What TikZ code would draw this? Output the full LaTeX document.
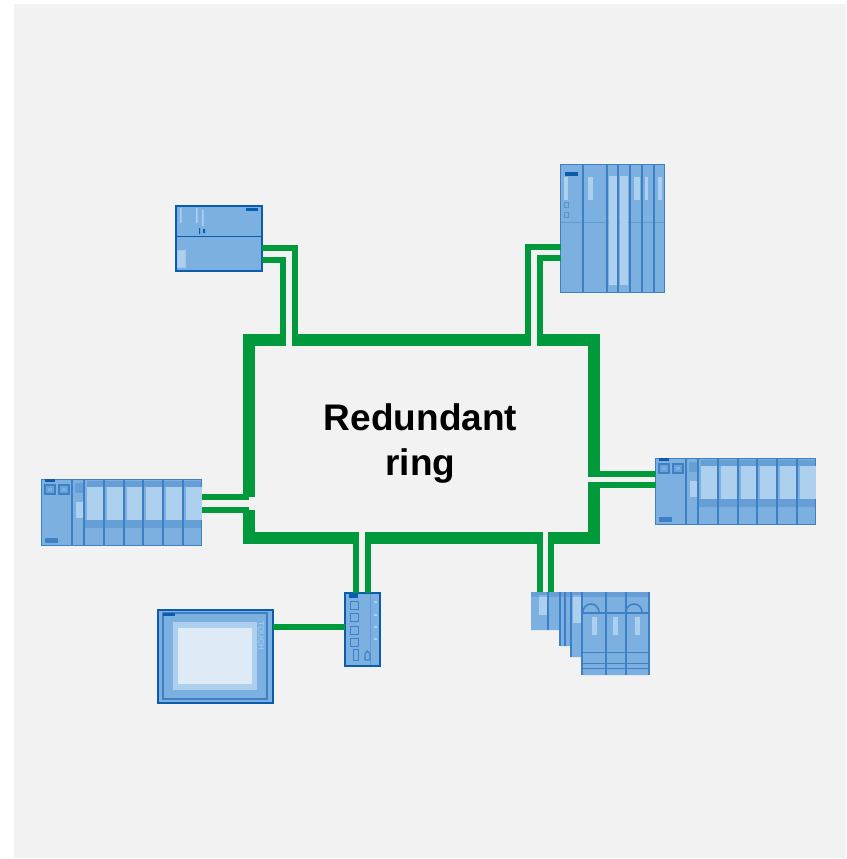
\documentclass[tikz,border=0pt]{standalone}
\usepackage{fontspec}
\setmainfont{Liberation Sans}
\definecolor{ringgreen}{HTML}{009A3D}
\definecolor{panelbg}{HTML}{F2F2F2}
\definecolor{devblue}{HTML}{7BB0E0}
\definecolor{devmid}{HTML}{3F80C4}
\definecolor{devdark}{HTML}{0B5CAD}
\definecolor{devlight}{HTML}{AED0EF}
\definecolor{devpale}{HTML}{DFEAF7}
\tikzset{
	ringline/.style={ringgreen, line width=12pt, line join=miter},
	wire/.style={ringgreen, line width=6pt, line join=miter},
	device/.style={draw=devdark, fill=devblue, line width=2pt, inner sep=0pt, outer sep=0pt},
	rack/.style={draw=devmid, fill=devblue, line width=1.5pt, inner sep=0pt, outer sep=0pt},
	ghost/.style={inner sep=0pt, outer sep=0pt},
	divider/.style={devmid, line width=2pt},
	faint/.style={devmid, line width=1pt}
}
% one row of modules, drawn from its top left corner
\newcommand{\modulerow}[1]{
	\begin{scope}[shift={(#1)}]
		\fill[devmid!35!devblue] (46,2) rectangle (160,8);
		\fill[devmid!35!devblue] (44,41) rectangle (160,49);
		\foreach \x in {46,66,85.5,105,125,145}\fill[devlight] (\x,8) rectangle +(16,33);
		\foreach \x in {31,43,63,83,102,122,142}\draw[divider] (\x,0)--(\x,67);
		\foreach \x in {4,18}{
			\draw[devmid, line width=1.5pt, fill=devmid!30!devblue] (\x,6) rectangle +(10,9);
			\fill[devblue] (\x+3,9) rectangle +(4,3);
		}
		\fill[devmid!35!devblue] (34,4) rectangle (42,14);
		\fill[devlight] (35,23) rectangle (42,39);
		\fill[devmid] (4,59) rectangle (17,64);
		\fill[devdark] (4,0) rectangle (14,3);
	\end{scope}
}
\begin{document}
\begin{tikzpicture}[x=1pt, y=-1pt, font=\bfseries, line cap=butt]
	\useasboundingbox (0,0) rectangle (846,859);
	\fill[panelbg] (14,4) rectangle (846,858);
	\path
	(249,497)coordinate (W1)
	(249,340)coordinate (W2)
	(283,340)coordinate (T1)
	(295,340)coordinate (T2)
	(283,260)coordinate (T3)
	(295,248)coordinate (T4)
	(528,340)coordinate (T5)
	(540,340)coordinate (T6)
	(528,247)coordinate (T7)
	(540,258)coordinate (T8)
	(594,340)coordinate (NE)
	(594,474)coordinate (E1)
	(594,485)coordinate (E2)
	(594,538)coordinate (SE)
	(551,538)coordinate (B1)
	(540,538)coordinate (B2)
	(368,538)coordinate (B3)
	(356,538)coordinate (B4)
	(249,538)coordinate (SW)
	(249,510)coordinate (W3)
	;
	% devices
	\node[device, minimum width=86pt, minimum height=65pt] (cpuA) at (218.5,238) {};
	\node[rack, minimum width=104pt, minimum height=128pt] (cpuB) at (612.5,228.5) {};
	\node[rack, minimum width=160pt, minimum height=66pt] (rowL) at (121.5,512.5) {};
	\node[rack, minimum width=160pt, minimum height=66pt] (rowR) at (735.5,491.5) {};
	\node[device, minimum width=115pt, minimum height=93pt] (hmi) at (215,656) {};
	\node[device, minimum width=35pt, minimum height=73pt] (switch) at (362.5,629.5) {};
	\node[ghost, minimum width=118pt, minimum height=83pt] (stack) at (590,633.5) {};
	\node[align=center, font=\fontsize{37}{45}\selectfont\bfseries] (ringname) at (420.5,444) {Redundant\\ring};
	% ring
	\draw[ringline] (W1)--(W2)--([xshift=3pt]T1);
	\draw[ringline] ([xshift=-3pt]T2)--([xshift=3pt]T5);
	\draw[ringline] ([xshift=-3pt]T6)--(NE)--(E1|-477,477);
	\draw[ringline] (E2|-482,482)--(SE)--([xshift=-3pt]B1);
	\draw[ringline] ([xshift=3pt]B2)--([xshift=-3pt]B3);
	\draw[ringline] ([xshift=3pt]B4)--(SW)--(W3);
	% double lines
	\draw[wire] (T1)--(T3)--(cpuA.east|-T3);
	\draw[wire] (T2)--(T4)--(cpuA.east|-T4);
	\draw[wire] (T5)--(T7)--(cpuB.west|-T7);
	\draw[wire] (T6)--(T8)--(cpuB.west|-T8);
	\draw[wire] (E1)--(rowR.west|-E1);
	\draw[wire] (E2)--(rowR.west|-E2);
	\draw[wire] (B1)--(B1|-stack.north);
	\draw[wire] (B2)--(B2|-stack.north);
	\draw[wire] (B3)--(B3|-switch.north);
	\draw[wire] (B4)--(B4|-switch.north);
	\draw[wire] (W1)--(rowL.east|-W1);
	\draw[wire] (W3)--(rowL.east|-W3);
	\draw[wire] (hmi.east|-0,627)--(switch.west|-0,627);
	% top left unit
	\draw[devdark, line width=1pt] (175,236.5)--(262,236.5);
	\fill[devdark] (246,208) rectangle (258,211);
	\fill[devlight, draw=devblue!70!white] (177,250) rectangle (185,267);
	\fill[devlight] (180,208) rectangle (181.5,223) (196,208) rectangle (197.5,223) (202,210) rectangle (203.5,226);
	\fill[devdark] (199,228) rectangle (200,234) (203,229) rectangle (205,233);
	% top right unit
	\draw[faint, opacity=.4] (560,222)--(665,222);
	\foreach \x/\w in {609/8,620/8}\fill[devlight] (\x,176) rectangle +(\w,109);
	\foreach \x/\w in {564/4,588/5,634/6,645/3,658/4}\fill[devlight] (\x,177) rectangle +(\w,23);
	\foreach \x in {583,606.5,618,629.5,641.5,654}\draw[divider] (\x,164.5)--(\x,292.5);
	\fill[devdark] (565,172) rectangle (578,176);
	\foreach \y in {202,212}\draw[devmid, line width=.8pt, opacity=.6] (564,\y) rectangle +(4,5);
	% side units
	\modulerow{41,479}
	\modulerow{655,458}
	% panel
	\draw[devmid, line width=1.5pt] (163,613) rectangle (267,699);
	\fill[devlight] (173,622) rectangle (257,690);
	\fill[devpale] (178,628) rectangle (252,684);
	\fill[devdark] (163,613) rectangle (175,616);
	\node[rotate=-90, text=devlight, font=\fontsize{8}{8}\selectfont] (touch) at (261,636) {TOUCH};
	% switch
	\fill[devdark] (349,594) rectangle (358,598);
	\draw[faint, opacity=.4] (370,594)--(370,665);
	\foreach \y in {601,613.5,626,638}{
		\draw[devmid, line width=1pt] (350,\y) rectangle +(8,8);
		\fill[devlight] (374,\y) rectangle +(3,2);
	}
	\draw[devmid, line width=1pt] (353,649) rectangle (358,660);
	\draw[devmid, line width=1.2pt] (365,660)--(365,654)--(367.5,651)--(370,654)--(370,660)--cycle;
	% stepped unit
	\fill[devblue] (stack.north west)--(stack.north east)--(stack.south east)--(582,675)--(582,657)--(571,657)--(571,646)--(560,646)--(560,630)--(531,630)--cycle;
	\foreach \x/\y/\w/\h in {539/595/8/20,573/595/9/28,592/617/5/18,613/617/5/18,635/617/5/18}\fill[devlight] (\x,\y) rectangle +(\w,\h);
	\fill[devmid, opacity=.35] (531,592) rectangle (649,597);
	\draw[devmid, line width=2pt] (582,613)--(649,613);
	\foreach \y in {652,663,668}\draw[faint] (582,\y)--(649,\y);
	\foreach \x/\a in {548/630,560/646,565/646,571/657,582/675,606/675,626/675}\draw[faint, line width=1.5pt] (\x,592)--(\x,\a);
	\foreach \x in {591,634}\draw[devmid, line width=1.5pt] (\x-8,612) arc (180:360:8);
	\draw[devmid, line width=1.2pt] (649,592)--(649,675);
\end{tikzpicture}
\end{document}
